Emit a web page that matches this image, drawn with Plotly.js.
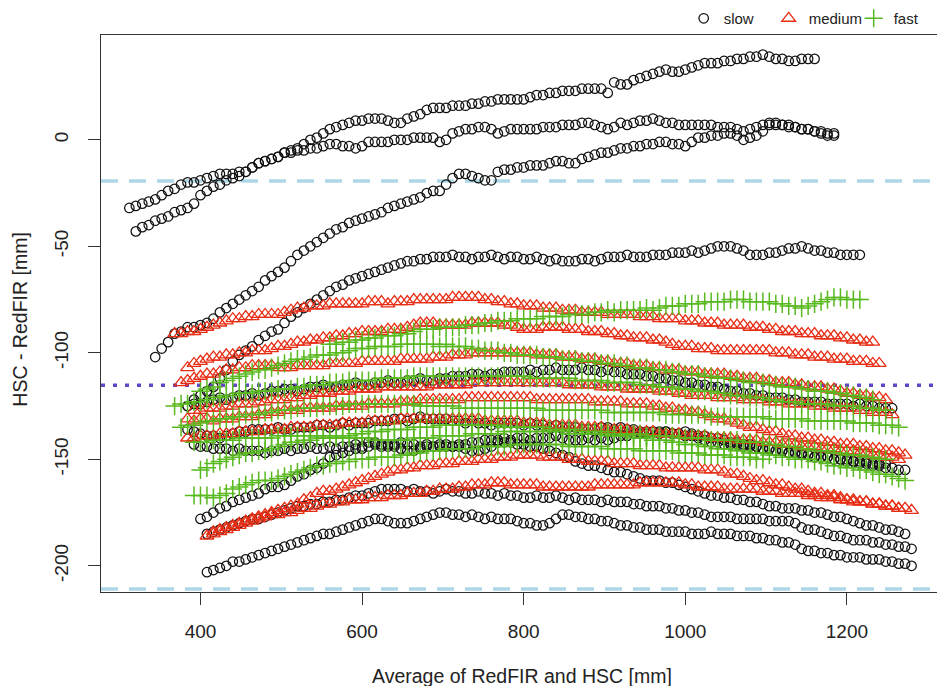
<!DOCTYPE html>
<html>
<head>
<meta charset="utf-8">
<script src="https://cdn.plot.ly/plotly-3.0.1.min.js"></script>
<style>html,body{margin:0;padding:0;background:#fff;}#chart{width:939px;height:686px;}</style>
</head>
<body>
<div id="chart"></div>
<script>
// Sampling positions on the x axis (Average of RedFIR and HSC [mm])
const xGrid = [312,320,328,336,344,352,360,368,376,384,
392,400,408,416,424,432,440,448,456,464,
472,480,488,496,504,512,520,528,536,544,
552,560,568,576,584,592,600,608,616,624,
632,640,648,656,664,672,680,688,696,704,
712,720,728,736,744,752,760,768,776,784,
792,800,808,816,824,832,840,848,856,864,
872,880,888,896,904,912,920,928,936,944,
952,960,968,976,984,992,1000,1008,1016,1024,
1032,1040,1048,1056,1064,1072,1080,1088,1096,1104,
1112,1120,1128,1136,1144,1152,1160,1168,1176,1184,
1192,1200,1208,1216,1224,1232,1240,1248,1256,1264,
1272,1280,1288];

// ---- slow (HSC - RedFIR [mm]) ----
const slow1From = 312;
const slow1 = [-32,-31,-30,-29,-28,-26,-24,-23,-21,-20,-20,-19,-18,-17,-16,-16,-16,-15,-15,-13,-11,-10,-9,-8,-6,-5,-4,-2,0,1,3,5,6,7,8,9,9,10,10,10,9,8,8,10,11,12,14,15,15,15,16,16,16,17,17,18,18,19,19,19,19,19,20,21,21,22,22,23,23,23,24,24,24,24,22,27,26,26,28,29,30,31,32,33,32,32,33,34,35,36,36,36,37,37,38,38,39,39,40,39,38,38,37,37,38,38,38];
const slow2From = 320;
const slow2 = [-43,-41,-40,-38,-37,-36,-34,-33,-32,-30,-26,-24,-22,-21,-19,-18,-17,-15,-13,-11,-10,-9,-8,-6,-6,-5,-5,-4,-4,-3,-2,-2,-3,-3,-4,-3,-1,-1,-1,-1,0,0,0,1,1,1,1,-1,0,3,4,5,5,6,6,5,3,4,5,5,5,5,5,6,6,6,7,7,7,8,8,7,6,5,6,8,7,8,9,9,10,9,8,8,7,7,7,7,7,7,6,6,6,5,4,5,6,7,8,8,7,7,6,5,5,4,3,2,2];
const slow3From = 344;
const slow3 = [-102,-98,-95,-91,-90,-88,-88,-87,-86,-84,-81,-79,-77,-75,-73,-71,-69,-66,-64,-62,-60,-57,-54,-52,-50,-48,-46,-44,-42,-41,-39,-38,-37,-36,-35,-34,-32,-31,-30,-29,-28,-27,-25,-24,-24,-21,-18,-16,-16,-17,-18,-19,-19,-15,-14,-14,-13,-13,-12,-12,-12,-11,-10,-10,-11,-11,-9,-8,-7,-6,-6,-5,-4,-4,-3,-3,-2,-2,-1,-1,-2,-2,-3,-1,1,1,2,2,3,3,2,0,1,2,4,7,7,7,6,6,5,5,4,4,3,3];
const slow4From = 384;
const slow4 = [-125,-122,-120,-118,-116,-112,-108,-104,-101,-99,-97,-94,-92,-90,-89,-86,-83,-81,-79,-77,-75,-73,-71,-69,-68,-66,-65,-64,-63,-62,-61,-60,-59,-58,-57,-57,-56,-56,-55,-55,-55,-54,-55,-55,-56,-55,-55,-54,-55,-56,-55,-55,-56,-56,-55,-56,-57,-56,-57,-57,-57,-56,-56,-57,-56,-55,-55,-55,-54,-55,-55,-55,-54,-54,-54,-53,-53,-53,-52,-53,-52,-51,-50,-50,-50,-51,-52,-54,-54,-54,-53,-53,-52,-51,-51,-50,-51,-52,-52,-53,-53,-54,-54,-54,-54];
const slow5From = 384;
const slow5 = [-125,-124,-124,-123,-122,-121,-122,-121,-120,-120,-119,-120,-119,-118,-118,-117,-117,-118,-117,-116,-116,-115,-116,-116,-115,-115,-114,-115,-115,-114,-114,-113,-114,-114,-113,-113,-112,-113,-113,-112,-112,-111,-111,-111,-110,-110,-111,-110,-110,-109,-109,-109,-109,-108,-109,-108,-108,-107,-108,-108,-108,-107,-108,-108,-109,-108,-109,-109,-110,-110,-110,-111,-111,-112,-112,-113,-113,-114,-114,-115,-115,-116,-116,-117,-118,-118,-119,-119,-120,-120,-121,-121,-121,-122,-122,-123,-123,-123,-123,-124,-124,-124,-124,-125,-124,-125,-125,-126,-126,-126];
const slow6From = 384;
const slow6 = [-136,-137,-138,-139,-139,-140,-139,-138,-137,-137,-136,-136,-136,-136,-135,-136,-136,-135,-135,-135,-134,-134,-135,-134,-133,-134,-133,-133,-133,-132,-132,-132,-131,-131,-132,-131,-130,-131,-131,-131,-131,-132,-132,-133,-132,-133,-133,-134,-133,-133,-133,-133,-134,-133,-134,-134,-135,-134,-135,-135,-135,-136,-136,-136,-135,-135,-136,-135,-136,-136,-137,-137,-137,-138,-137,-138,-138,-139,-138,-139,-139,-140,-140,-141,-142,-142,-143,-143,-144,-145,-145,-146,-146,-147,-147,-147,-148,-149,-149,-149,-150,-150,-151,-151,-152,-152,-153,-153,-154,-154,-155,-155];
const slow7From = 392;
const slow7 = [-143,-144,-144,-145,-145,-145,-146,-145,-146,-146,-146,-147,-146,-146,-145,-146,-145,-145,-144,-145,-145,-144,-145,-144,-144,-143,-144,-144,-143,-144,-143,-143,-142,-143,-143,-144,-143,-144,-144,-144,-144,-143,-143,-142,-142,-141,-141,-141,-140,-141,-140,-140,-141,-140,-140,-140,-139,-140,-141,-141,-141,-140,-141,-140,-141,-140,-139,-139,-138,-138,-138,-137,-137,-137,-138,-138,-137,-139,-140,-141,-142,-142,-143,-143,-143,-144,-144,-144,-145,-145,-146,-146,-147,-147,-148,-148,-149,-149,-149,-150,-150,-150,-151,-151,-151,-152,-152,-152];
const slow8From = 400;
const slow8 = [-178,-177,-175,-173,-172,-170,-169,-168,-167,-166,-164,-163,-163,-162,-160,-158,-157,-155,-154,-152,-149,-148,-147,-146,-145,-145,-142,-142,-143,-144,-144,-145,-146,-146,-145,-144,-144,-143,-143,-144,-144,-145,-146,-146,-145,-144,-142,-142,-142,-143,-143,-144,-144,-145,-146,-147,-148,-149,-151,-152,-153,-153,-154,-155,-156,-156,-157,-158,-159,-160,-160,-160,-161,-161,-162,-163,-164,-165,-166,-167,-167,-168,-168,-169,-169,-170,-170,-171,-172,-172,-173,-173,-173,-174,-174,-175,-175,-176,-177,-177,-178,-179,-180,-181,-181,-182,-183,-183,-184,-185];
const slow9From = 408;
const slow9 = [-185,-184,-183,-182,-181,-180,-179,-178,-178,-177,-176,-175,-174,-173,-172,-172,-171,-171,-170,-170,-169,-169,-168,-167,-167,-166,-165,-164,-164,-164,-164,-165,-164,-165,-165,-166,-165,-164,-165,-165,-166,-166,-165,-166,-166,-167,-166,-167,-167,-168,-168,-167,-168,-168,-167,-168,-169,-168,-169,-169,-169,-170,-169,-170,-170,-170,-171,-171,-172,-172,-172,-173,-173,-174,-174,-175,-175,-176,-177,-177,-177,-177,-178,-178,-178,-178,-178,-179,-179,-179,-179,-180,-182,-183,-183,-184,-185,-186,-186,-187,-188,-188,-188,-189,-189,-190,-190,-191,-191,-192];
const slow10From = 408;
const slow10 = [-203,-202,-201,-200,-198,-198,-197,-196,-195,-194,-193,-192,-191,-190,-189,-188,-187,-186,-185,-185,-184,-183,-182,-181,-180,-179,-178,-178,-179,-180,-180,-180,-179,-178,-177,-176,-175,-175,-176,-176,-177,-176,-177,-178,-177,-178,-178,-178,-179,-180,-180,-181,-181,-180,-178,-176,-176,-177,-177,-178,-178,-179,-179,-180,-181,-181,-182,-182,-183,-183,-183,-184,-184,-184,-184,-185,-185,-185,-184,-185,-185,-185,-186,-186,-186,-187,-187,-188,-188,-189,-189,-190,-192,-193,-193,-194,-194,-195,-195,-196,-196,-196,-197,-197,-197,-198,-198,-199,-199,-200];

// ---- medium ----
const med1From = 368;
const med1 = [-91,-91,-90,-90,-89,-88,-87,-86,-85,-84,-84,-83,-83,-82,-82,-82,-82,-81,-80,-79,-79,-78,-78,-78,-77,-77,-77,-77,-77,-77,-76,-76,-76,-77,-76,-76,-76,-75,-75,-75,-75,-75,-75,-74,-74,-74,-74,-74,-75,-75,-76,-76,-77,-77,-78,-78,-78,-79,-79,-79,-80,-80,-80,-81,-81,-81,-81,-82,-82,-82,-82,-82,-83,-83,-83,-84,-84,-84,-84,-85,-85,-85,-86,-86,-86,-87,-87,-87,-87,-88,-88,-88,-89,-89,-90,-90,-90,-91,-91,-91,-92,-92,-92,-93,-93,-94,-94,-95,-95];
const med2From = 384;
const med2 = [-107,-105,-104,-103,-102,-102,-101,-101,-100,-100,-99,-99,-99,-98,-97,-97,-96,-95,-95,-94,-94,-93,-93,-92,-92,-91,-91,-90,-90,-90,-90,-89,-89,-89,-88,-87,-86,-86,-86,-87,-87,-87,-87,-87,-86,-86,-86,-86,-86,-87,-87,-88,-89,-89,-89,-88,-88,-88,-88,-89,-89,-89,-90,-90,-90,-91,-91,-92,-92,-93,-93,-93,-94,-94,-95,-96,-97,-97,-97,-98,-98,-98,-99,-99,-99,-99,-99,-99,-99,-99,-99,-100,-100,-100,-101,-101,-101,-102,-102,-102,-103,-103,-103,-104,-104,-104,-105,-105];
const med3From = 376;
const med3 = [-114,-113,-112,-111,-110,-110,-109,-108,-108,-107,-107,-106,-106,-106,-106,-107,-107,-107,-106,-106,-106,-106,-106,-105,-105,-105,-105,-105,-104,-104,-104,-104,-104,-104,-103,-103,-103,-103,-103,-102,-102,-102,-101,-101,-101,-100,-100,-100,-100,-100,-100,-100,-100,-100,-100,-101,-101,-101,-101,-102,-102,-102,-103,-103,-103,-104,-104,-105,-105,-105,-106,-106,-106,-107,-107,-108,-108,-108,-109,-109,-109,-110,-110,-110,-110,-111,-111,-112,-112,-112,-113,-113,-114,-114,-114,-115,-115,-116,-116,-116,-117,-117,-118,-119,-119,-120,-120,-121,-121,-122];
const med4From = 392;
const med4 = [-127,-127,-126,-126,-126,-125,-125,-124,-124,-124,-123,-123,-122,-122,-122,-121,-121,-120,-120,-119,-119,-119,-118,-118,-118,-117,-117,-117,-117,-116,-116,-116,-116,-116,-116,-116,-116,-115,-115,-115,-115,-115,-115,-114,-114,-114,-114,-114,-114,-114,-114,-114,-114,-114,-114,-114,-114,-114,-115,-115,-115,-115,-115,-116,-116,-116,-116,-117,-117,-117,-117,-117,-118,-118,-118,-119,-119,-120,-120,-120,-120,-121,-121,-121,-121,-122,-122,-122,-122,-123,-123,-123,-124,-124,-124,-124,-125,-125,-125,-126,-126,-126,-126,-127,-127,-128,-128,-128,-129];
const med5From = 384;
const med5 = [-131,-132,-131,-131,-132,-131,-131,-131,-130,-130,-130,-129,-129,-128,-128,-127,-127,-127,-126,-126,-126,-126,-126,-125,-125,-125,-125,-125,-124,-124,-124,-124,-124,-123,-123,-123,-122,-122,-122,-122,-122,-122,-122,-121,-121,-121,-121,-121,-121,-121,-121,-121,-121,-121,-122,-122,-122,-122,-122,-122,-122,-122,-122,-123,-123,-123,-123,-123,-124,-124,-124,-124,-125,-125,-126,-126,-127,-127,-128,-128,-129,-130,-131,-131,-132,-133,-134,-135,-135,-136,-137,-137,-138,-139,-139,-140,-140,-141,-141,-142,-142,-143,-143,-143,-144,-144,-145,-145,-146,-146,-147,-148];
const med6From = 384;
const med6 = [-140,-140,-139,-139,-139,-138,-138,-138,-137,-137,-137,-137,-136,-136,-136,-136,-135,-135,-135,-135,-134,-134,-134,-134,-133,-133,-133,-133,-132,-132,-132,-132,-132,-131,-131,-131,-131,-131,-131,-131,-131,-131,-131,-131,-131,-131,-132,-132,-132,-132,-132,-132,-133,-133,-133,-133,-134,-134,-134,-134,-134,-135,-135,-135,-135,-136,-136,-136,-136,-137,-137,-137,-137,-138,-138,-138,-138,-139,-139,-139,-139,-140,-140,-140,-140,-141,-141,-141,-141,-142,-142,-142,-143,-143,-143,-144,-144,-144,-145,-145,-145,-146,-146,-146,-147,-147,-148,-148,-149,-149,-150];
const med7From = 408;
const med7 = [-186,-185,-184,-183,-182,-181,-180,-179,-177,-176,-175,-174,-173,-172,-171,-169,-168,-166,-165,-165,-164,-163,-162,-161,-160,-159,-158,-157,-156,-155,-155,-154,-154,-153,-153,-153,-152,-152,-152,-151,-151,-151,-150,-150,-150,-149,-149,-149,-148,-148,-148,-148,-149,-149,-149,-149,-150,-150,-150,-151,-151,-151,-151,-152,-152,-152,-152,-153,-153,-153,-153,-154,-154,-154,-154,-154,-154,-155,-155,-155,-156,-157,-157,-158,-159,-160,-160,-161,-162,-162,-163,-164,-164,-165,-166,-166,-167,-167,-168,-169,-169,-170,-170,-171,-171,-172,-172,-173,-173,-174];
const med8From = 416;
const med8 = [-184,-183,-182,-181,-180,-179,-178,-178,-177,-176,-176,-175,-175,-174,-173,-173,-172,-171,-171,-170,-170,-169,-169,-169,-168,-168,-168,-167,-167,-167,-166,-166,-166,-165,-165,-164,-164,-164,-163,-163,-162,-162,-162,-161,-161,-161,-162,-162,-162,-162,-162,-163,-163,-163,-163,-163,-163,-163,-163,-162,-162,-162,-162,-162,-162,-162,-161,-161,-161,-161,-161,-161,-161,-162,-162,-163,-163,-163,-163,-164,-164,-164,-164,-164,-164,-165,-165,-165,-166,-166,-166,-166,-167,-167,-168,-168,-168,-169,-169,-170,-170,-170,-171,-171,-172,-172,-173];

// ---- fast ----
const fast1From = 560;
const fast1 = [-96,-96,-95,-95,-94,-94,-93,-93,-92,-92,-92,-91,-91,-90,-89,-89,-89,-88,-88,-88,-88,-87,-87,-87,-86,-86,-85,-85,-85,-84,-84,-84,-84,-83,-83,-83,-83,-82,-82,-82,-82,-81,-81,-80,-81,-80,-80,-80,-80,-79,-80,-79,-78,-78,-78,-77,-77,-77,-76,-76,-76,-76,-75,-75,-75,-76,-76,-76,-76,-77,-77,-78,-78,-79,-78,-77,-76,-75,-74,-74,-75,-75,-75];
const fast2From = 400;
const fast2 = [-118,-117,-116,-114,-113,-112,-111,-110,-109,-108,-108,-107,-106,-105,-104,-103,-103,-102,-101,-101,-101,-100,-100,-99,-98,-98,-98,-97,-97,-97,-97,-96,-96,-96,-96,-96,-96,-97,-96,-97,-97,-97,-98,-98,-99,-99,-99,-100,-100,-101,-101,-101,-101,-102,-102,-102,-103,-103,-103,-104,-104,-104,-105,-105,-105,-106,-106,-107,-107,-107,-108,-108,-108,-109,-109,-110,-110,-110,-111,-111,-112,-112,-112,-113,-113,-114,-114,-114,-115,-115,-116,-116,-116,-117,-117,-118,-118,-118,-119,-119,-120,-120,-121,-121,-122];
const fast3From = 368;
const fast3 = [-125,-124,-124,-123,-123,-122,-121,-121,-120,-120,-119,-119,-119,-118,-118,-118,-117,-117,-117,-116,-116,-115,-115,-115,-114,-114,-114,-113,-113,-113,-113,-113,-112,-112,-112,-112,-112,-111,-111,-111,-111,-111,-111,-111,-111,-111,-111,-111,-111,-111,-111,-111,-111,-111,-111,-112,-112,-112,-112,-112,-112,-112,-113,-113,-113,-113,-113,-114,-114,-114,-114,-114,-115,-115,-115,-116,-116,-116,-117,-117,-117,-118,-118,-118,-119,-119,-120,-120,-120,-121,-121,-121,-122,-122,-123,-123,-123,-124,-124,-124,-124,-124,-125,-125,-125,-125,-126,-126,-126,-127,-127];
const fast4From = 376;
const fast4 = [-135,-134,-134,-133,-132,-132,-131,-131,-130,-130,-129,-129,-129,-128,-128,-127,-127,-127,-126,-126,-126,-126,-125,-125,-125,-125,-124,-124,-124,-124,-124,-124,-124,-124,-124,-124,-124,-125,-125,-125,-125,-125,-125,-126,-126,-126,-126,-126,-126,-126,-126,-126,-126,-126,-126,-126,-127,-127,-127,-127,-127,-127,-127,-127,-127,-127,-128,-128,-128,-128,-128,-128,-128,-128,-128,-129,-129,-129,-129,-129,-129,-129,-130,-130,-130,-130,-130,-130,-130,-130,-130,-131,-131,-131,-131,-131,-131,-132,-132,-132,-132,-132,-132,-132,-133,-133,-133,-133,-134,-134,-134,-135];
const fast5From = 392;
const fast5 = [-142,-142,-142,-141,-141,-141,-141,-140,-140,-140,-140,-140,-140,-139,-139,-139,-139,-139,-139,-139,-139,-139,-139,-140,-140,-140,-140,-140,-141,-141,-141,-141,-141,-141,-140,-140,-140,-140,-139,-139,-139,-139,-139,-138,-138,-138,-138,-138,-137,-137,-137,-137,-137,-137,-137,-137,-137,-137,-138,-138,-138,-138,-138,-138,-139,-139,-139,-139,-140,-140,-140,-141,-141,-141,-142,-142,-143,-143,-143,-144,-144,-145,-145,-145,-146,-146,-147,-147,-147,-148,-148,-149,-149,-150,-150,-150,-151,-151,-152,-153,-153,-154,-154,-155,-155,-156,-157,-157,-158,-159,-160];
const fast6From = 400;
const fast6 = [-155,-154,-152,-151,-150,-149,-148,-147,-147,-146,-146,-145,-144,-143,-142,-142,-141,-141,-140,-140,-140,-140,-139,-139,-138,-138,-137,-137,-137,-136,-136,-136,-136,-135,-135,-135,-135,-134,-134,-134,-134,-134,-134,-134,-134,-134,-134,-135,-135,-135,-135,-135,-135,-135,-136,-136,-136,-136,-136,-137,-137,-137,-137,-137,-138,-138,-138,-138,-138,-139,-139,-139,-139,-139,-140,-140,-140,-140,-140,-141,-141,-141,-141,-141,-142,-142,-142,-142,-143,-143,-144,-144,-144,-145,-145,-146,-146,-146,-147,-147,-148,-148,-148,-149,-149,-150,-150];
const fast7From = 392;
const fast7 = [-167,-167,-167,-168,-167,-166,-164,-163,-162,-161,-160,-160,-160,-159,-158,-157,-156,-155,-154,-153,-153,-152,-152,-151,-151,-150,-150,-150,-149,-149,-149,-149,-148,-148,-147,-147,-146,-146,-146,-145,-145,-145,-145,-145,-144,-144,-144,-144,-144,-143,-143,-143,-143,-143,-143,-143,-143,-143,-144,-144,-144,-144,-144,-144,-145,-145,-145,-145,-145,-146,-146,-146,-146,-146,-146,-147,-147,-147,-147,-148,-148,-148,-148,-149,-149,-149,-149,-150,-150];

// Reference lines (mean difference and limits of agreement)
const meanDiff = -115.2;
const upperLoA = -19.4;
const lowerLoA = -210.9;

const slowSeries = [[slow1From, slow1], [slow2From, slow2], [slow3From, slow3], [slow4From, slow4], [slow5From, slow5], [slow6From, slow6], [slow7From, slow7], [slow8From, slow8], [slow9From, slow9], [slow10From, slow10]];
const mediumSeries = [[med1From, med1], [med2From, med2], [med3From, med3], [med4From, med4], [med5From, med5], [med6From, med6], [med7From, med7], [med8From, med8]];
const fastSeries = [[fast1From, fast1], [fast2From, fast2], [fast3From, fast3], [fast4From, fast4], [fast5From, fast5], [fast6From, fast6], [fast7From, fast7]];

function xsFor(from, ys) {
  const i = xGrid.indexOf(from);
  return xGrid.slice(i, i + ys.length);
}

const styles = {
  slow:   {symbol: 'circle-open', size: 9.5, color: '#111111', width: 1.25},
  medium: {symbol: 'triangle-up-open', size: 12, color: 'rgb(232,45,20)', width: 1.3},
  fast:   {symbol: 'cross-thin-open', size: 13, color: 'rgb(88,185,30)', width: 1.5}
};

const traces = [];
function addGroup(name, series) {
  const st = styles[name];
  series.forEach(function (s, k) {
    traces.push({
      type: 'scatter', mode: 'markers',
      x: xsFor(s[0], s[1]), y: s[1],
      name: name, legendgroup: name, showlegend: k === 0,
      marker: {symbol: st.symbol, size: st.size, color: st.color, line: {color: st.color, width: st.width}},
      hoverinfo: 'skip'
    });
  });
}
addGroup('slow', slowSeries);
addGroup('medium', mediumSeries);
addGroup('fast', fastSeries);

const font = 'Liberation Sans, Arial, sans-serif';
const layout = {
  width: 939, height: 686,
  margin: {l: 101, r: 0, t: 35, b: 94},
  paper_bgcolor: '#ffffff', plot_bgcolor: '#ffffff',
  font: {family: font, color: '#222222'},
  showlegend: true,
  legend: {orientation: 'h', x: 0.697, xanchor: 'left', y: 1.0, yanchor: 'bottom',
           entrywidth: 40, entrywidthmode: 'pixels',
           font: {family: font, size: 15, color: '#222222'}, bgcolor: 'rgba(0,0,0,0)', itemwidth: 30},
  xaxis: {range: [276.9, 1311.5], tickvals: [400, 600, 800, 1000, 1200], ticktext: ['400', '600', '800', '1000', '1200'],
          ticks: 'outside', ticklen: 12, tickwidth: 1, tickcolor: '#333333',
          showline: true, linecolor: '#333333', linewidth: 1, mirror: true,
          showgrid: false, zeroline: false, ticklabelstandoff: 10,
          tickfont: {family: font, size: 19, color: '#222222'}},
  yaxis: {range: [-212.3, 49.2], tickvals: [0, -50, -100, -150, -200], ticktext: ['0', '-50', '-100', '-150', '-200'],
          ticks: 'outside', ticklen: 12, tickwidth: 1, tickcolor: '#333333', tickangle: -90,
          showline: true, linecolor: '#333333', linewidth: 1, mirror: false,
          showgrid: false, zeroline: false, ticklabelstandoff: 12,
          tickfont: {family: font, size: 19, color: '#222222'}},
  shapes: [
    {type: 'line', xref: 'paper', x0: 0, x1: 1, yref: 'y', y0: upperLoA, y1: upperLoA, layer: 'below',
     line: {color: 'rgb(173,216,230)', width: 3.5, dash: '17px,11px'}},
    {type: 'line', xref: 'paper', x0: 0, x1: 1, yref: 'y', y0: lowerLoA, y1: lowerLoA, layer: 'below',
     line: {color: 'rgb(173,216,230)', width: 3.5, dash: '17px,11px'}},
    {type: 'line', xref: 'paper', x0: 0, x1: 1, yref: 'y', y0: meanDiff, y1: meanDiff, layer: 'below',
     line: {color: 'rgb(98,70,200)', width: 3.5, dash: '4px,8px'}}
  ],
  annotations: [
    {text: 'Average of RedFIR and HSC [mm]', xref: 'paper', yref: 'paper', x: 0.504, y: 0, yanchor: 'middle', xanchor: 'center',
     yshift: -84, showarrow: false, font: {family: font, size: 19.5, color: '#222222'}},
    {text: 'HSC - RedFIR [mm]', xref: 'paper', yref: 'paper', x: 0, y: 0.489, xanchor: 'center', yanchor: 'middle',
     xshift: -81, textangle: -90, showarrow: false, font: {family: font, size: 19.5, color: '#222222'}}
  ],
  hovermode: false
};

Plotly.newPlot('chart', traces, layout, {staticPlot: true, displayModeBar: false});
</script>
</body>
</html>
